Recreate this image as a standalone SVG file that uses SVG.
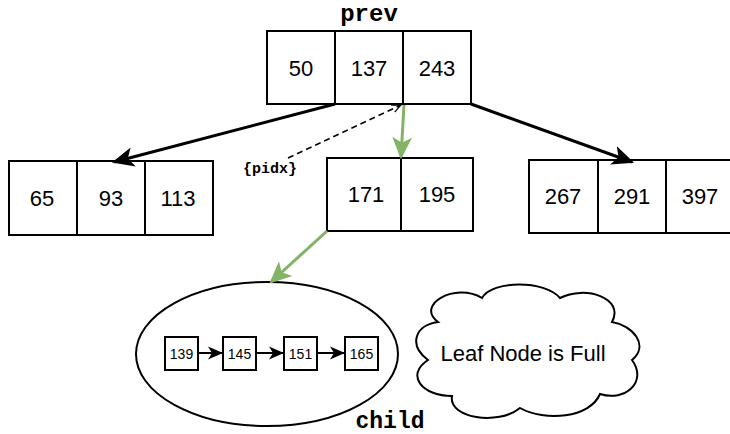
<svg xmlns="http://www.w3.org/2000/svg" width="730" height="434" viewBox="0 0 730 434">
  <style>
    .cell { fill: #ffffff; stroke: #000000; stroke-width: 2; }
    .num { font-family: "Liberation Sans", Arial, sans-serif; font-size: 22px; fill: #000000; text-anchor: middle; dominant-baseline: central; }
    .small { font-family: "Liberation Sans", Arial, sans-serif; font-size: 14px; fill: #000000; text-anchor: middle; dominant-baseline: central; }
    .mono { font-family: "Liberation Mono", "Courier New", monospace; font-weight: bold; fill: #000000; text-anchor: middle; }
    .tree { stroke: #000000; stroke-width: 3; fill: none; }
    .green { stroke: #82b366; stroke-width: 3; fill: none; }
    .chain { stroke: #000000; stroke-width: 2; fill: none; }
  </style>
  <defs>
    <marker id="blackHead" markerWidth="15" markerHeight="15" refX="14" refY="7.5" orient="auto" markerUnits="userSpaceOnUse" viewBox="0 0 15 15">
      <path d="M0,1 L15,7.5 L0,14 L4,7.5 Z" fill="#000000"/>
    </marker>
    <marker id="bigBlack" viewBox="0 0 20 20" refX="18" refY="10" markerWidth="22" markerHeight="22" orient="auto" markerUnits="userSpaceOnUse">
      <path d="M0,1 L20,10 L0,19 L5,10 Z" fill="#000000"/>
    </marker>
    <marker id="greenHead" viewBox="0 0 20 20" refX="18" refY="10" markerWidth="22" markerHeight="22" orient="auto" markerUnits="userSpaceOnUse">
      <path d="M0,1 L20,10 L0,19 L5,10 Z" fill="#82b366"/>
    </marker>
    <marker id="openHead" viewBox="0 0 10 10" refX="9" refY="5" markerWidth="10" markerHeight="10" orient="auto" markerUnits="userSpaceOnUse">
      <path d="M0,1 L9,5 L0,9" fill="none" stroke="#000000" stroke-width="1.2"/>
    </marker>
  </defs>

  <!-- parent node -->
  <g id="prev">
    <text class="mono" x="369" y="21" font-size="24">prev</text>
    <rect class="cell" x="267" y="31" width="68" height="73"/>
    <rect class="cell" x="335" y="31" width="68" height="73"/>
    <rect class="cell" x="403" y="31" width="68" height="73"/>
    <text class="num" x="301" y="68">50</text>
    <text class="num" x="369" y="68">137</text>
    <text class="num" x="437" y="68">243</text>
  </g>

  <!-- left child -->
  <g id="left">
    <rect class="cell" x="9" y="161" width="68" height="74"/>
    <rect class="cell" x="77" y="161" width="68" height="74"/>
    <rect class="cell" x="145" y="161" width="68" height="74"/>
    <text class="num" x="42" y="198">65</text>
    <text class="num" x="111" y="198">93</text>
    <text class="num" x="178" y="198">113</text>
  </g>

  <!-- middle child -->
  <g id="middle">
    <rect class="cell" x="327" y="158" width="74" height="73"/>
    <rect class="cell" x="401" y="158" width="72" height="73"/>
    <text class="num" x="366" y="194">171</text>
    <text class="num" x="437" y="194">195</text>
  </g>

  <!-- right child -->
  <g id="right">
    <rect class="cell" x="529" y="160" width="69" height="73"/>
    <rect class="cell" x="598" y="160" width="68" height="73"/>
    <rect class="cell" x="666" y="160" width="69" height="73"/>
    <text class="num" x="563" y="196">267</text>
    <text class="num" x="632" y="196">291</text>
    <text class="num" x="700" y="196">397</text>
  </g>

  <!-- leaf (child) -->
  <g id="child">
    <ellipse cx="267" cy="354" rx="131" ry="72" fill="#ffffff" stroke="#000000" stroke-width="2"/>
    <rect class="cell" x="165" y="337" width="33" height="33"/>
    <rect class="cell" x="223" y="337" width="33" height="33"/>
    <rect class="cell" x="284" y="337" width="33" height="33"/>
    <rect class="cell" x="345" y="337" width="33" height="33"/>
    <text class="small" x="181.5" y="354">139</text>
    <text class="small" x="239.5" y="354">145</text>
    <text class="small" x="300.5" y="354">151</text>
    <text class="small" x="361.5" y="354">165</text>
    <text class="mono" x="390" y="428" font-size="23">child</text>
  </g>

  <!-- status cloud -->
  <g id="cloud">
    <path d="M438,322 C415,305 455,282 482,298 C492,280 545,280 560,298 C585,285 625,298 612,322 C632,325 650,345 632,360 C648,382 625,402 600,394 C590,418 545,422 520,408 C498,426 448,418 452,396 C422,396 405,375 428,360 C408,345 415,325 438,322 Z" fill="#ffffff" stroke="#000000" stroke-width="2"/>
    <text class="num" x="523" y="353">Leaf Node is Full</text>
  </g>

  <!-- connectors -->
  <g id="connectors">
    <line class="tree" x1="335" y1="104" x2="114" y2="162" marker-end="url(#bigBlack)"/>
    <line class="tree" x1="471" y1="104" x2="632" y2="162" marker-end="url(#bigBlack)"/>
    <line class="green" x1="404" y1="105" x2="401" y2="157" marker-end="url(#greenHead)"/>
    <line x1="288" y1="158" x2="401" y2="105" stroke="#000000" stroke-width="1.5" stroke-dasharray="6,4" fill="none" marker-end="url(#openHead)"/>
    <line class="green" x1="327" y1="231" x2="271" y2="282" marker-end="url(#greenHead)"/>
    <line class="chain" x1="198" y1="353" x2="222" y2="353" marker-end="url(#blackHead)"/>
    <line class="chain" x1="256" y1="353" x2="283" y2="353" marker-end="url(#blackHead)"/>
    <line class="chain" x1="317" y1="353" x2="344" y2="353" marker-end="url(#blackHead)"/>
  </g>
  <text class="mono" x="270" y="173" font-size="15">{pidx}</text>
</svg>
